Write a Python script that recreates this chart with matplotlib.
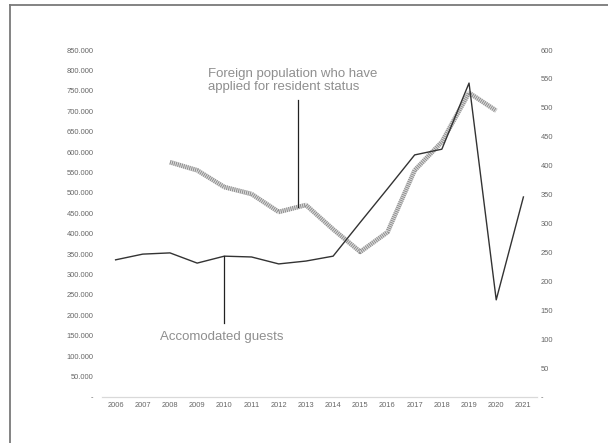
import matplotlib

matplotlib.use("Agg")
import matplotlib.pyplot as plt  # noqa: E402
from matplotlib.lines import Line2D  # noqa: E402

# --- data ----------------------------------------------------------------- #
YEARS = list(range(2006, 2022))
GUESTS = [336_000, 350_000, 353_000, 328_000, 345_000, 343_000, 326_000, 333_000,
          345_000, 428_000, 510_000, 593_000, 607_000, 769_000, 238_000, 490_000]

RES_YEARS = list(range(2008, 2021))
RESIDENTS = [406, 392, 363, 351, 320, 332, 290, 251, 285, 392, 441, 526, 495]

LEFT_TICKS = list(range(0, 850_001, 50_000))
RIGHT_TICKS = list(range(0, 601, 50))

LABEL_GUESTS = "Accomodated guests"
LABEL_RES = "Foreign population who have\napplied for resident status"

plt.rcParams["font.family"] = ["Liberation Sans", "DejaVu Sans"]
TICK_C = "#666666"
TEXT_C = "#8f8f8f"


def _dotfmt(v):
    return "-" if v == 0 else f"{v:,.0f}".replace(",", ".")


fig = plt.figure(figsize=(6.08, 4.43), dpi=100)
ax = fig.add_axes([102 / 608, 1 - 397 / 443, 435 / 608, 347 / 443])
ax2 = ax.twinx()

ax.plot(YEARS, GUESTS, color="#333333", lw=1.0, zorder=3)
# hatched grey band for the residents series
ax2.plot(RES_YEARS, RESIDENTS, color="#dedede", lw=3.3, solid_capstyle="butt", zorder=2)
ax2.plot(RES_YEARS, RESIDENTS, color="#8e8e8e", lw=3.3, ls=(0, (0.22, 0.22)), zorder=2)

ax.set_xlim(2005.5, 2021.5)
ax.set_ylim(0, 850_000)
ax2.set_ylim(0, 600)

ax.set_xticks(YEARS)
ax.set_xticklabels([str(y) for y in YEARS])
ax.set_yticks(LEFT_TICKS)
ax.set_yticklabels([_dotfmt(v) for v in LEFT_TICKS])
ax2.set_yticks(RIGHT_TICKS)
ax2.set_yticklabels(["-" if v == 0 else str(v) for v in RIGHT_TICKS])

for a in (ax, ax2):
    for side in ("left", "right", "top"):
        a.spines[side].set_visible(False)
    a.spines["bottom"].set_color("#d9d9d9")
    a.spines["bottom"].set_linewidth(0.8)
    a.tick_params(length=0, labelsize=5.4, labelcolor=TICK_C)
ax.tick_params(axis="y", pad=6)
ax.tick_params(axis="x", pad=3.5)
ax2.tick_params(axis="y", pad=2.5)
ax2.set_zorder(ax.get_zorder() - 1)
ax.patch.set_visible(False)

# annotation: accommodated guests (left axis, 2010)
ax.plot([2010, 2010], [GUESTS[YEARS.index(2010)], 181_000], color="#222222", lw=0.9, zorder=4)
ax.text(2009.9, 148_000, LABEL_GUESTS, ha="center", va="center", fontsize=9.5, color=TEXT_C)

# annotation: foreign residents (right axis, between 2012 and 2013)
x_res = 2012.7
ax2.plot([x_res, x_res], [328, 513], color="#222222", lw=0.9, zorder=4)
ax2.text(2009.4, 547, LABEL_RES, ha="left", va="center", fontsize=9.5, color=TEXT_C,
         linespacing=1.05)

# frame lines of the original screenshot (top + left only)
fig.add_artist(Line2D([10 / 608, 1], [1 - 5 / 443, 1 - 5 / 443], color="#7a7a7a", lw=1.3))
fig.add_artist(Line2D([10 / 608, 10 / 608], [0, 1 - 5 / 443], color="#7a7a7a", lw=1.3))

fig.savefig("out.png", dpi=100)
